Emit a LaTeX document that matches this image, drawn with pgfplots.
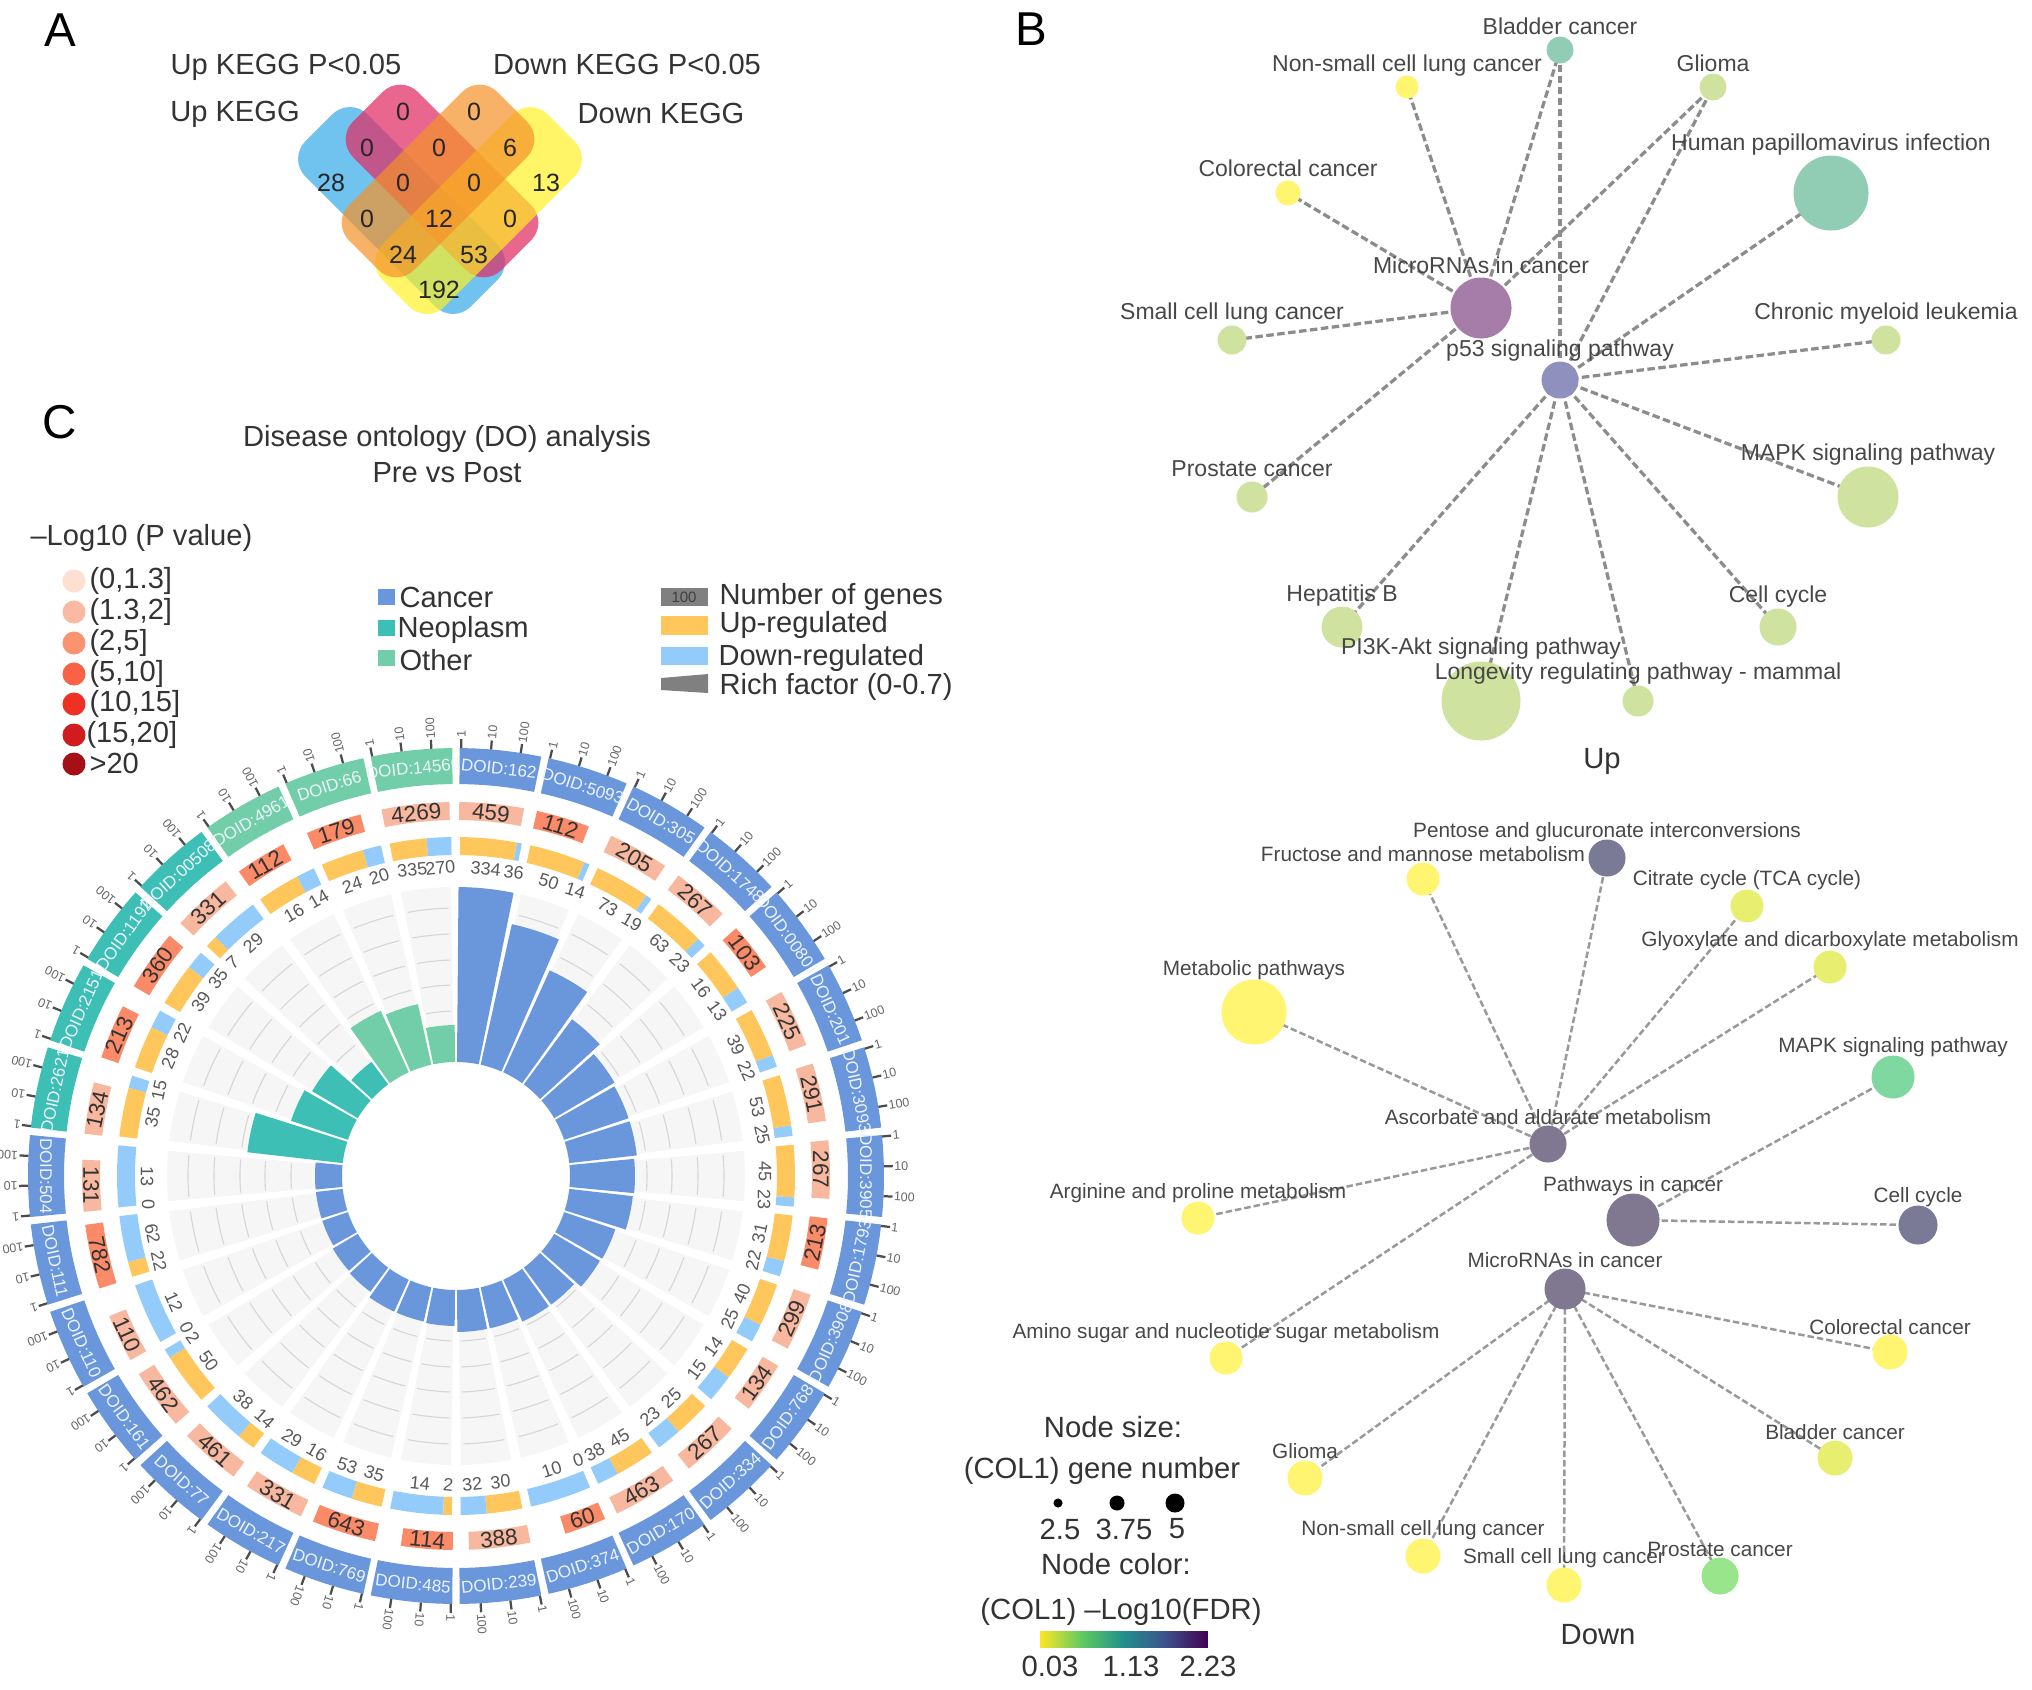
\documentclass[border=0pt]{standalone}
\usepackage{fontspec}
\setmainfont{Liberation Sans}
\usepackage{pgfplots}
\usepackage{pgfplotstable}
\pgfplotsset{compat=1.18}
\usepgfplotslibrary{polar}

% category + ring colours
\definecolor{cancer}{HTML}{6A97DC}
\definecolor{neoplasm}{HTML}{3DBFB5}
\definecolor{other}{HTML}{72CDA9}
\definecolor{pl}{HTML}{F8B8A0}
\definecolor{pm}{HTML}{FB8A68}
\definecolor{upc}{HTML}{FFC65C}
\definecolor{downc}{HTML}{93CBFB}
% network node colours
\definecolor{nyel}{HTML}{FFF570}
\definecolor{nyg}{HTML}{E7EE70}
\definecolor{nlg}{HTML}{D0E2A0}
\definecolor{nteal}{HTML}{91CDB5}
\definecolor{npur}{HTML}{A67CA8}
\definecolor{nblu}{HTML}{9090BE}
\definecolor{ngry}{HTML}{7F7890}
\definecolor{nmint}{HTML}{7FD8A0}
\definecolor{nlime}{HTML}{98E58C}
\definecolor{nsl}{HTML}{7A7A96}

\tikzset{
  f5/.style={font=\fontsize{5}{6}\selectfont},
  f6/.style={font=\fontsize{6}{7}\selectfont},
  f68/.style={font=\fontsize{6.8}{8}\selectfont},
  f7/.style={font=\fontsize{7.2}{8}\selectfont},
  f8/.style={font=\fontsize{8.3}{9}\selectfont},
  f9/.style={font=\fontsize{9}{10}\selectfont},
  f92/.style={font=\fontsize{9.2}{10}\selectfont},
  f10/.style={font=\fontsize{10}{11}\selectfont},
  f105/.style={font=\fontsize{11.7}{12}\selectfont},
  f11/.style={font=\fontsize{11.65}{12}\selectfont},
  f19/.style={font=\fontsize{19}{20}\selectfont},
  gridc/.style={draw=black!16,line width=0.45pt},
  edge/.style={draw=black!45,line width=1.3pt,dash pattern=on 3pt off 1.4pt},
  edgeb/.style={draw=black!40,line width=1pt,dash pattern=on 2.6pt off 1.2pt},
  lab/.style={f92,text=black!72,inner sep=0pt},
  labb/.style={f8,text=black!72,inner sep=0pt},
  txt/.style={f11,text=black!80,inner sep=0pt},
  leg/.style={f11,text=black!80,inner sep=0pt,anchor=west},
}

% one row per disease term, clockwise from the top
\pgfplotstableread{
label genes span pcol up down frac rich cat
DOID:162 459 10 pl 334 36 0.92 0.700 cancer
DOID:5093 112 8.3 pm 50 14 0.91 0.576 cancer
DOID:305 205 9.5 pl 73 19 0.90 0.448 cancer
DOID:1748 267 9 pl 63 23 0.85 0.324 cancer
DOID:00801 103 7.5 pm 16 13 0.72 0.280 cancer
DOID:201 225 9 pl 39 22 0.80 0.272 cancer
DOID:3093 291 9 pl 53 25 0.83 0.272 cancer
DOID:3905 267 9 pl 45 23 0.85 0.260 cancer
DOID:1793 213 8 pm 31 22 0.75 0.256 cancer
DOID:3908 299 9 pl 40 25 0.70 0.216 cancer
DOID:768 134 8 pl 14 15 0.55 0.212 cancer
DOID:334 267 9 pl 25 23 0.60 0.184 cancer
DOID:170 463 10 pl 45 38 0.65 0.184 cancer
DOID:374 60 6.5 pm 0 10 0.00 0.168 cancer
DOID:239 388 9.5 pl 30 32 0.58 0.168 cancer
DOID:485 114 8 pm 2 14 0.14 0.144 cancer
DOID:769 643 10 pm 35 53 0.50 0.140 cancer
DOID:217 331 9.5 pl 16 29 0.40 0.140 cancer
DOID:77 461 9.5 pl 14 38 0.30 0.120 cancer
DOID:161 462 9.5 pl 50 2 0.85 0.116 cancer
DOID:110 110 7.5 pl 0 12 0.00 0.108 cancer
DOID:111 782 10 pm 22 62 0.25 0.108 cancer
DOID:504 131 8 pl 0 13 0.00 0.108 cancer
DOID:2621 134 8 pl 35 15 0.80 0.384 neoplasm
DOID:2151 213 8.5 pm 28 22 0.70 0.240 neoplasm
DOID:1192 360 9.5 pm 39 35 0.70 0.212 neoplasm
DOID:005083 331 9.5 pl 7 29 0.20 0.112 neoplasm
DOID:4961 112 8 pm 16 14 0.70 0.270 other
DOID:66 179 8.7 pm 24 20 0.70 0.248 other
DOID:14566 4269 10.5 pl 335 270 0.60 0.148 other
}\doTable

% polar helpers: theta is clockwise from the top, radius in image pixels
\newcommand\arcadd[3]{\foreach \k in {0,...,6}{%
  \pgfmathsetmacro\aa{90-(#1+(#2-#1)*\k/6)}\xdef\coords{\coords (\aa,#3)}}}
\newcommand\seg[5]{\gdef\coords{}\arcadd{#1}{#2}{#4}\arcadd{#2}{#1}{#3}%
  \edef\tmp{\noexpand\addplot[fill=#5,draw=none,forget plot] coordinates {\coords} --cycle;}\tmp}
\newcommand\rtext[5]{% theta, radius, rotation, style, text
  \pgfmathsetmacro\aa{90-(#1)}%
  \edef\tmp{\noexpand\node[#4,rotate=#3] at (axis cs:\aa,#2) {#5};}\tmp}

% network helpers for the pixel axis; labels go in a later axis, above the marks
\newcommand\netlabels{}
\makeatletter
\newcommand\edge[4]{\addplot[edge,forget plot] coordinates {(#1,#2)(#3,#4)};}
\newcommand\edgeb[4]{\addplot[edgeb,forget plot] coordinates {(#1,#2)(#3,#4)};}
\newcommand\nnode[7]{% x y r colour style label-y label
  \addplot[only marks,mark=*,mark size=#3*0.4pt,color=#4,forget plot] coordinates {(#1,#2)};
  \g@addto@macro\netlabels{\node[#5] at (axis cs:#1,#6) {#7};}}
\makeatother

\pgfplotsset{pixelaxis/.style={
  at={(0,0)},anchor=south west,
  hide axis,scale only axis,clip=false,
  width=812.8pt,height=675.6pt,
  xmin=0,xmax=2032,ymin=0,ymax=1689,y dir=reverse,
}}

\begin{document}
\begin{tikzpicture}
\useasboundingbox (0,0) rectangle (812.8pt,675.6pt);
\begin{axis}[pixelaxis]
% panel letters
\node[f19] at (axis cs:60,30) {A};
\node[f19] at (axis cs:1031,29) {B};
\node[f19] at (axis cs:60,422) {C};

% ---- A: Venn
\addplot[fill={rgb,255:red,80;green,180;blue,235},fill opacity=.82,draw=none,rounded corners=10pt,forget plot]
  coordinates {(287.7,158.9)(349.9,96.7)(515.3,262.1)(453.1,324.3)} --cycle;
\addplot[fill={rgb,255:red,225;green,45;blue,100},fill opacity=.72,draw=none,rounded corners=10pt,forget plot]
  coordinates {(335.3,139.3)(400.3,74.3)(548.7,222.7)(483.7,287.7)} --cycle;
\addplot[fill={rgb,255:red,255;green,240;blue,30},fill opacity=.68,draw=none,rounded corners=10pt,forget plot]
  coordinates {(592.3,158.9)(530.1,96.7)(364.7,262.1)(426.9,324.3)} --cycle;
\addplot[fill={rgb,255:red,245;green,145;blue,40},fill opacity=.7,draw=none,rounded corners=10pt,forget plot]
  coordinates {(544.7,139.3)(479.7,74.3)(331.3,222.7)(396.3,287.7)} --cycle;
\node[txt] at (axis cs:286,67) {Up KEGG P<0.05};
\node[txt] at (axis cs:627,64) {Down KEGG P<0.05};
\node[txt] at (axis cs:235,114) {Up KEGG};
\node[txt] at (axis cs:661,113) {Down KEGG};
\foreach \x/\y/\v in {403/112/0,474/112/0,367/148/0,439/148/0,510/148/6,331/183/28,403/183/0,474/183/0,546/183/13,367/219/0,439/219/12,510/219/0,403/255/24,474/255/53,439/290/192}{
  \edef\tmp{\noexpand\node[f10,text=black!85] at (axis cs:\x,\y) {\v};}\tmp}

% ---- C: titles and legends
\node[txt] at (axis cs:447,439) {Disease ontology (DO) analysis};
\node[txt] at (axis cs:447,473) {Pre vs Post};
\node[leg] at (axis cs:30,538) {–Log10 (P value)};
\addplot[only marks,mark=*,mark size=4.4pt,color={rgb,255:red,253;green,224;blue,210},forget plot] coordinates {(74,581)};
\addplot[only marks,mark=*,mark size=4.4pt,color={rgb,255:red,250;green,185;blue,160},forget plot] coordinates {(74,612)};
\addplot[only marks,mark=*,mark size=4.4pt,color={rgb,255:red,251;green,146;blue,112},forget plot] coordinates {(74,643)};
\addplot[only marks,mark=*,mark size=4.4pt,color={rgb,255:red,249;green,98;blue,69},forget plot] coordinates {(74,674)};
\addplot[only marks,mark=*,mark size=4.4pt,color={rgb,255:red,238;green,49;blue,36},forget plot] coordinates {(74,704)};
\addplot[only marks,mark=*,mark size=4.4pt,color={rgb,255:red,208;green,28;blue,31},forget plot] coordinates {(74,735)};
\addplot[only marks,mark=*,mark size=4.4pt,color={rgb,255:red,165;green,15;blue,21},forget plot] coordinates {(74,764)};
\node[leg] at (axis cs:89,581) {(0,1.3]};
\node[leg] at (axis cs:89,612) {(1.3,2]};
\node[leg] at (axis cs:89,643) {(2,5]};
\node[leg] at (axis cs:89,674) {(5,10]};
\node[leg] at (axis cs:89,704) {(10,15]};
\node[leg] at (axis cs:86,735) {(15,20]};
\node[leg] at (axis cs:89,763) {>20};
\addplot[fill=cancer,draw=none,forget plot] coordinates {(378,589)(395,589)(395,605)(378,605)} --cycle;
\addplot[fill=neoplasm,draw=none,forget plot] coordinates {(378,620)(395,620)(395,636)(378,636)} --cycle;
\addplot[fill=other,draw=none,forget plot] coordinates {(378,650)(395,650)(395,666)(378,666)} --cycle;
\node[leg] at (axis cs:399,597) {Cancer};
\node[leg] at (axis cs:397,630) {Neoplasm};
\node[leg] at (axis cs:399,660) {Other};
\addplot[fill=black!50,draw=none,forget plot] coordinates {(661,588)(708,588)(708,606)(661,606)} --cycle;
\node[f6,text=black!75] at (axis cs:684,597) {100};
\addplot[fill=upc,draw=none,forget plot] coordinates {(661,616)(708,616)(708,635)(661,635)} --cycle;
\addplot[fill=downc,draw=none,forget plot] coordinates {(661,647)(708,647)(708,665)(661,665)} --cycle;
\addplot[fill=black!50,draw=none,forget plot] coordinates {(661,678)(708,674)(708,693)(661,690)} --cycle;
\node[leg] at (axis cs:719,597) {Number of genes};
\node[leg] at (axis cs:719,625) {Up-regulated};
\node[leg] at (axis cs:718,658) {Down-regulated};
\node[leg] at (axis cs:719,687) {Rich factor (0-0.7)};

% ---- B: upper network
\edge{1481}{308}{1407}{87}\edge{1481}{308}{1560}{50}\edge{1481}{308}{1713}{87}
\edge{1481}{308}{1288}{193}\edge{1481}{308}{1232}{340}\edge{1481}{308}{1252}{497}
\edge{1560}{380}{1560}{50}\edge{1560}{380}{1713}{87}\edge{1560}{380}{1831}{193}
\edge{1560}{380}{1886}{340}\edge{1560}{380}{1868}{497}\edge{1560}{380}{1778}{627}
\edge{1560}{380}{1638}{701}\edge{1560}{380}{1481}{701}\edge{1560}{380}{1342}{627}
\nnode{1560}{50}{13}{nteal}{lab}{26}{Bladder cancer}
\nnode{1407}{87}{11}{nyel}{lab}{66}{Non-small cell lung cancer}
\nnode{1713}{87}{13}{nlg}{lab}{63}{Glioma}
\nnode{1831}{193}{37}{nteal}{lab}{145}{Human papillomavirus infection}
\nnode{1288}{193}{12}{nyel}{lab}{168}{Colorectal cancer}
\nnode{1481}{308}{30}{npur}{lab}{265}{MicroRNAs in cancer}
\nnode{1232}{340}{14}{nlg}{lab}{314}{Small cell lung cancer}
\nnode{1560}{380}{18}{nblu}{lab}{351}{p53 signaling pathway}
\nnode{1886}{340}{14}{nlg}{lab}{314}{Chronic myeloid leukemia}
\nnode{1252}{497}{15}{nlg}{lab}{469}{Prostate cancer}
\nnode{1868}{497}{30}{nlg}{lab}{455}{MAPK signaling pathway}
\nnode{1342}{627}{20}{nlg}{lab}{596}{Hepatitis B}
\nnode{1778}{627}{18}{nlg}{lab}{597}{Cell cycle}
\nnode{1481}{701}{39}{nlg}{lab}{649}{PI3K-Akt signaling pathway}
\nnode{1638}{701}{15}{nlg}{lab}{674}{Longevity regulating pathway - mammal}
\node[f105,text=black!80] at (axis cs:1602,761) {Up};

% ---- B: lower network
\edgeb{1548}{1144}{1423}{879}\edgeb{1548}{1144}{1607}{858}\edgeb{1548}{1144}{1747}{906}
\edgeb{1548}{1144}{1830}{967}\edgeb{1548}{1144}{1254}{1012}\edgeb{1548}{1144}{1198}{1218}
\edgeb{1548}{1144}{1226}{1358}\edgeb{1633}{1220}{1893}{1077}\edgeb{1633}{1220}{1918}{1225}
\edgeb{1565}{1289}{1890}{1352}\edgeb{1565}{1289}{1835}{1458}\edgeb{1565}{1289}{1720}{1576}
\edgeb{1565}{1289}{1564}{1585}\edgeb{1565}{1289}{1423}{1556}\edgeb{1565}{1289}{1305}{1478}
\nnode{1607}{858}{18}{nsl}{labb}{832}{Pentose and glucuronate interconversions}
\nnode{1423}{879}{16}{nyel}{labb}{854}{Fructose and mannose metabolism}
\nnode{1747}{906}{16}{nyg}{labb}{880}{Citrate cycle (TCA cycle)}
\nnode{1830}{967}{16}{nyg}{labb}{941}{Glyoxylate and dicarboxylate metabolism}
\nnode{1254}{1012}{32}{nyel}{labb}{970}{Metabolic pathways}
\nnode{1893}{1077}{21}{nmint}{labb}{1047}{MAPK signaling pathway}
\nnode{1548}{1144}{18}{ngry}{labb}{1117}{Ascorbate and aldarate metabolism}
\nnode{1198}{1218}{16}{nyel}{labb}{1193}{Arginine and proline metabolism}
\nnode{1633}{1220}{26}{ngry}{labb}{1186}{Pathways in cancer}
\nnode{1918}{1225}{19}{nsl}{labb}{1197}{Cell cycle}
\nnode{1565}{1289}{20}{ngry}{labb}{1260}{MicroRNAs in cancer}
\nnode{1890}{1352}{17}{nyel}{labb}{1327}{Colorectal cancer}
\nnode{1226}{1358}{16}{nyel}{labb}{1333}{Amino sugar and nucleotide sugar metabolism}
\nnode{1305}{1478}{17}{nyel}{labb}{1451}{Glioma}
\nnode{1835}{1458}{17}{nyg}{labb}{1432}{Bladder cancer}
\nnode{1423}{1556}{17}{nyel}{labb}{1530}{Non-small cell lung cancer}
\nnode{1564}{1585}{17}{nyel}{labb}{1558}{Small cell lung cancer}
\nnode{1720}{1576}{18}{nlime}{labb}{1549}{Prostate cancer}
\node[f105,text=black!80] at (axis cs:1598,1635) {Down};

% node size / colour legend
\node[f105,text=black!80] at (axis cs:1113,1427) {Node size:};
\node[f105,text=black!80] at (axis cs:1102,1471) {(COL1) gene number};
\addplot[only marks,mark=*,mark size=1.6pt,color=black,forget plot] coordinates {(1058,1503)};
\addplot[only marks,mark=*,mark size=2.8pt,color=black,forget plot] coordinates {(1117,1503)};
\addplot[only marks,mark=*,mark size=3.6pt,color=black,forget plot] coordinates {(1175,1503)};
\node[f105,text=black!80] at (axis cs:1060,1529) {2.5};
\node[f105,text=black!80] at (axis cs:1124,1529) {3.75};
\node[f105,text=black!80] at (axis cs:1177,1529) {5};
\node[f105,text=black!80] at (axis cs:1116,1564) {Node color:};
\node[f105,text=black!80] at (axis cs:1121,1612) {(COL1) –Log10(FDR)};
\addplot[surf,shader=interp,mesh/rows=2,point meta=explicit,forget plot,
  colormap={vr}{color(0)=(rgb,255:red,253;green,231;blue,37) color(1)=(rgb,255:red,94;green,201;blue,98)
    color(2)=(rgb,255:red,33;green,145;blue,140) color(3)=(rgb,255:red,59;green,82;blue,139) color(4)=(rgb,255:red,68;green,1;blue,84)}]
  table[meta=m] {
x y m
1040 1631 0
1082 1631 1
1123 1631 2
1165 1631 3
1207 1631 4
1040 1647 0
1082 1647 1
1123 1647 2
1165 1647 3
1207 1647 4
};
\node[f105,text=black!80] at (axis cs:1050,1666) {0.03};
\node[f105,text=black!80] at (axis cs:1131,1666) {1.13};
\node[f105,text=black!80] at (axis cs:1208,1666) {2.23};
\end{axis}

% network labels, on top of the node marks
\begin{axis}[pixelaxis]
\netlabels
\end{axis}

% ---- C: circular plot, centre (456,1176) in image pixels
\begin{polaraxis}[
  at={(182.4pt,205.2pt)},anchor=center,
  hide axis,scale only axis,clip=false,
  width=400pt,height=400pt,
  xmin=-270,xmax=90,ymin=0,ymax=500,
]
\foreach \i in {0,...,29}{
  \pgfplotstablegetelem{\i}{label}\of\doTable\let\lab\pgfplotsretval
  \pgfplotstablegetelem{\i}{genes}\of\doTable\let\genes\pgfplotsretval
  \pgfplotstablegetelem{\i}{span}\of\doTable\let\sp\pgfplotsretval
  \pgfplotstablegetelem{\i}{pcol}\of\doTable\let\pcol\pgfplotsretval
  \pgfplotstablegetelem{\i}{up}\of\doTable\let\up\pgfplotsretval
  \pgfplotstablegetelem{\i}{down}\of\doTable\let\dn\pgfplotsretval
  \pgfplotstablegetelem{\i}{frac}\of\doTable\let\fr\pgfplotsretval
  \pgfplotstablegetelem{\i}{rich}\of\doTable\let\rich\pgfplotsretval
  \pgfplotstablegetelem{\i}{cat}\of\doTable\let\cat\pgfplotsretval
  \pgfmathsetmacro\tz{12*\i}
  \pgfmathsetmacro\ta{\tz+0.5}
  \pgfmathsetmacro\tb{\tz+11.5}
  % rotation of tangent text: flipped on the lower half
  \pgfmathsetmacro\tm{\tz+6}
  \pgfmathsetmacro\rot{(\i>=8 && \i<=22) ? 180-\tm : -\tm}
  % grey cell, grid arcs, bar
  \pgfmathsetmacro\tca{\tz+1}
  \pgfmathsetmacro\tcb{\tz+11}
  \seg{\tca}{\tcb}{114}{289}{black!3.5}
  \pgfmathsetmacro\tga{\tz+1.6}
  \pgfmathsetmacro\tgb{\tz+10.4}
  \foreach \gr in {140,165,191,216,242,268}{
    \gdef\coords{}\arcadd{\tga}{\tgb}{\gr}
    \edef\tmp{\noexpand\addplot[gridc,forget plot] coordinates {\coords};}\tmp}
  \pgfmathsetmacro\rb{114+250*\rich}
  \seg{\ta}{\tb}{114}{\rb}{\cat}
  % up / down ring
  \pgfmathsetmacro\tc{\tz+0.7+10.5*\fr}
  \pgfmathsetmacro\td{\tz+11.2}
  \pgfmathsetmacro\te{\tz+0.7}
  \seg{\te}{\tc}{321}{339}{upc}
  \seg{\tc}{\td}{321}{339}{downc}
  \pgfmathsetmacro\tu{0.5*(\te+\tc)}
  \pgfmathsetmacro\tv{0.5*(\tc+\td)}
  \rtext{\tu}{309}{\rot}{f7,text=black!65,inner sep=0pt}{\up}
  \rtext{\tv}{309}{\rot}{f7,text=black!65,inner sep=0pt}{\dn}
  % gene-count ring
  \pgfmathsetmacro\tf{\tz+0.5+\sp}
  \seg{\ta}{\tf}{356}{374}{\pcol}
  \pgfmathsetmacro\tg{0.5*(\ta+\tf)}
  \rtext{\tg}{365}{\rot}{f9,text=black!80,inner sep=0pt}{\genes}
  % outer term ring with its log scale
  \seg{\ta}{\tb}{392}{428}{\cat}
  \rtext{\tm}{410}{\rot}{f68,text=white!88!cancer,inner sep=0pt}{\lab}
  \foreach \off/\tl in {0.7/1,4.7/10,8.7/100}{
    \pgfmathsetmacro\tk{\tz+\off}
    \pgfmathsetmacro\ak{90-\tk}
    \edef\tmp{\noexpand\addplot[draw=black!70,line width=0.9pt,forget plot] coordinates {(\ak,428)(\ak,437)};}\tmp
    \edef\tmp{\noexpand\node[f5,text=black!60,inner sep=0pt,anchor=west,rotate=\ak] at (axis cs:\ak,438) {\tl};}\tmp
  }
}
\end{polaraxis}
\end{tikzpicture}
\end{document}
